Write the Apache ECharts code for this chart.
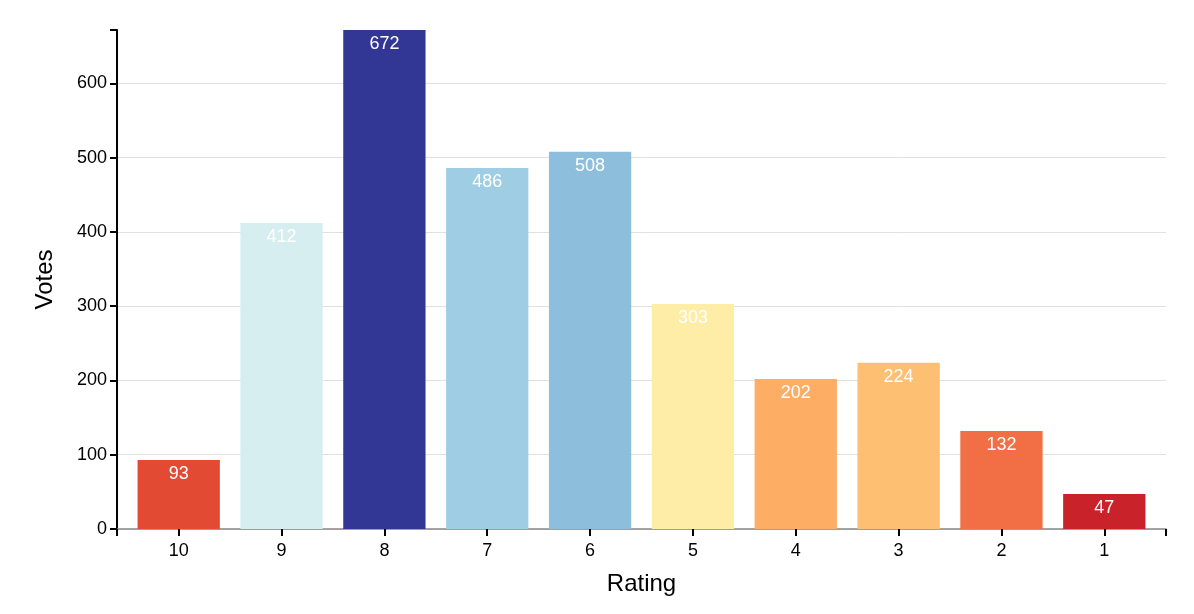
<!DOCTYPE html>
<html><head><meta charset="utf-8">
<script src="https://cdn.jsdelivr.net/npm/echarts@6/dist/echarts.min.js"></script>
<style>html,body{margin:0;padding:0;background:#fff}#c{width:1194px;height:614px}</style>
</head><body><div id="c"></div>
<script>
const categories = ['10','9','8','7','6','5','4','3','2','1'];
const votes = [93, 412, 672, 486, 508, 303, 202, 224, 132, 47];
const barColors = ['#e24a33','#d6eef0','#323694','#9fcde3','#8dbfdc','#feeda6','#fdad64','#fdbf71','#f26e44','#c9222a'];
const yTicks = [0, 100, 200, 300, 400, 500, 600];
const yMax = 672;

const chart = echarts.init(document.getElementById('c'));
const idx = categories.map((c, i) => i);
const FF = 'Liberation Sans, Arial';
chart.setOption({
  animation: false,
  grid: { left: 117, right: 28, top: 30, bottom: 85, containLabel: false },
  xAxis: {
    type: 'value', min: -0.6, max: 9.6,
    name: 'Rating', nameLocation: 'middle', nameGap: 43,
    nameTextStyle: { fontSize: 24, color: '#000', fontFamily: FF },
    axisLine: { show: true, onZero: false, lineStyle: { color: '#888', width: 1.5 } },
    axisTick: { show: true, length: 7, inside: false, customValues: [-0.6].concat(idx, [9.6]), lineStyle: { color: '#000', width: 2 } },
    axisLabel: { customValues: idx, formatter: v => categories[Math.round(v)], fontSize: 18, color: '#000', margin: 13, fontFamily: FF },
    splitLine: { show: false }
  },
  yAxis: {
    type: 'value', min: 0, max: yMax, interval: 100,
    name: 'Votes', nameLocation: 'middle', nameGap: 60, nameRotate: 90,
    nameTextStyle: { fontSize: 24, color: '#000', fontFamily: FF },
    axisLine: { show: true, onZero: false, lineStyle: { color: '#000', width: 2 } },
    axisTick: { show: true, length: 7, customValues: yTicks.concat([yMax]), lineStyle: { color: '#000', width: 2 } },
    axisLabel: { customValues: yTicks, fontSize: 18, color: '#000', margin: 10, fontFamily: FF },
    splitLine: { show: true, showMaxLine: false, lineStyle: { color: '#e0e0e0', width: 1 } }
  },
  series: [{
    type: 'bar',
    barWidth: 82.3,
    data: votes.map((v, i) => ({ value: [i, v], itemStyle: { color: barColors[i] } })),
    label: {
      show: true, position: 'insideTop', distance: 5, color: '#fff', fontSize: 18,
      fontFamily: FF,
      formatter: p => String(p.value[1])
    }
  }]
});
</script></body></html>
